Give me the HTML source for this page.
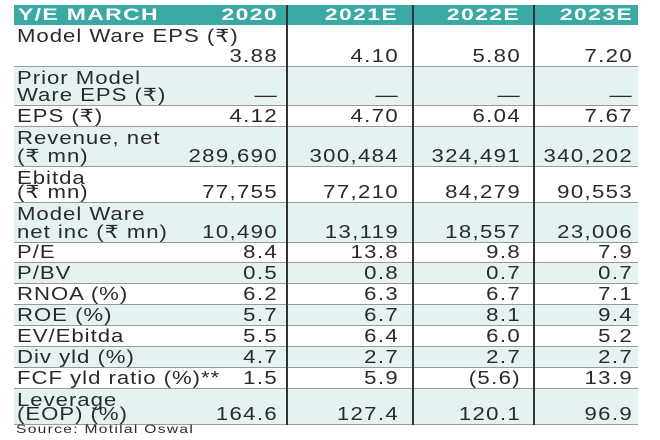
<!DOCTYPE html>
<html><head><meta charset="utf-8"><style>
body{margin:0;width:660px;height:440px;background:#fff;position:relative;overflow:hidden;font-family:"Liberation Sans","Noto Sans CJK SC",sans-serif;color:#2a2a2a}
.r{position:absolute;left:14px;width:624px;border-bottom:1px solid #9a9a9a;box-sizing:border-box}
.l{background:#e4f2f2}
.t{position:absolute;font-size:18px;line-height:18px;white-space:nowrap;letter-spacing:0.8px;transform:scaleX(1.23);transform-origin:left center}
.v{position:absolute;font-size:18px;line-height:18px;white-space:nowrap;letter-spacing:1.1px;transform:scaleX(1.23);transform-origin:right center;text-align:right}
.h{position:absolute;top:5px;height:20px;background:#3aa9a3;left:14px;width:624px}
.ht{position:absolute;top:6px;color:#fff;font-weight:bold;font-size:17px;line-height:18px;letter-spacing:1px;white-space:nowrap;transform:scaleX(1.35)}
.vl{position:absolute;top:5px;width:2px;height:420px;background:#333}
.src{position:absolute;left:16px;top:422px;font-size:12px;letter-spacing:1px;transform:scaleX(1.3);transform-origin:left center;white-space:nowrap}
</style></head><body>
<div class="h"></div>
<div class="ht" style="left:18px;transform-origin:left center">Y/E MARCH</div>
<div class="ht" style="left:158px;width:120px;text-align:right;transform-origin:right center">2020</div>
<div class="ht" style="left:278px;width:120px;text-align:right;transform-origin:right center">2021E</div>
<div class="ht" style="left:400px;width:120px;text-align:right;transform-origin:right center">2022E</div>
<div class="ht" style="left:513px;width:120px;text-align:right;transform-origin:right center">2023E</div>
<div id="rows"></div>
<script>
var rows=[
[25,67,0,["Model Ware EPS (₹)",""],["3.88","4.10","5.80","7.20"]],
[67,106,1,["Prior Model","Ware EPS (₹)"],["—","—","—","—"]],
[106,127,0,["EPS (₹)"],["4.12","4.70","6.04","7.67"]],
[127,167,1,["Revenue, net","(₹ mn)"],["289,690","300,484","324,491","340,202"]],
[167,203,0,["Ebitda","(₹ mn)"],["77,755","77,210","84,279","90,553"]],
[203,243,1,["Model Ware","net inc (₹ mn)"],["10,490","13,119","18,557","23,006"]],
[243,263,0,["P/E"],["8.4","13.8","9.8","7.9"]],
[263,284,1,["P/BV"],["0.5","0.8","0.7","0.7"]],
[284,305,0,["RNOA (%)"],["6.2","6.3","6.7","7.1"]],
[305,326,1,["ROE (%)"],["5.7","6.7","8.1","9.4"]],
[326,347,0,["EV/Ebitda"],["5.5","6.4","6.0","5.2"]],
[347,368,1,["Div yld (%)"],["4.7","2.7","2.7","2.7"]],
[368,389,0,["FCF yld ratio (%)**"],["1.5","5.9","(5.6)","13.9"]],
[389,425,1,["Leverage","(EOP) (%)"],["164.6","127.4","120.1","96.9"]]];
var rights=[278,399,521,633],h="";
rows.forEach(function(r){
 h+='<div class="r'+(r[2]?' l':'')+'" style="top:'+r[0]+'px;height:'+(r[1]-r[0])+'px"></div>';
 var two=r[3].length>1;
 if(two){h+='<div class="t" style="left:17px;top:'+(r[0]+2)+'px">'+r[3][0]+'</div>';
  if(r[3][1])h+='<div class="t" style="left:17px;top:'+(r[1]-20)+'px">'+r[3][1]+'</div>';}
 else h+='<div class="t" style="left:17px;top:'+(r[1]-20)+'px">'+r[3][0]+'</div>';
 r[4].forEach(function(v,i){h+='<div class="v" style="left:'+(rights[i]-120)+'px;width:120px;top:'+(r[1]-20)+'px">'+v+'</div>';});
});
document.getElementById('rows').innerHTML=h;
</script>
<div class="vl" style="left:286px"></div>
<div class="vl" style="left:412px"></div>
<div class="vl" style="left:533px"></div>
<div class="src">Source: Motilal Oswal</div>
</body></html>
